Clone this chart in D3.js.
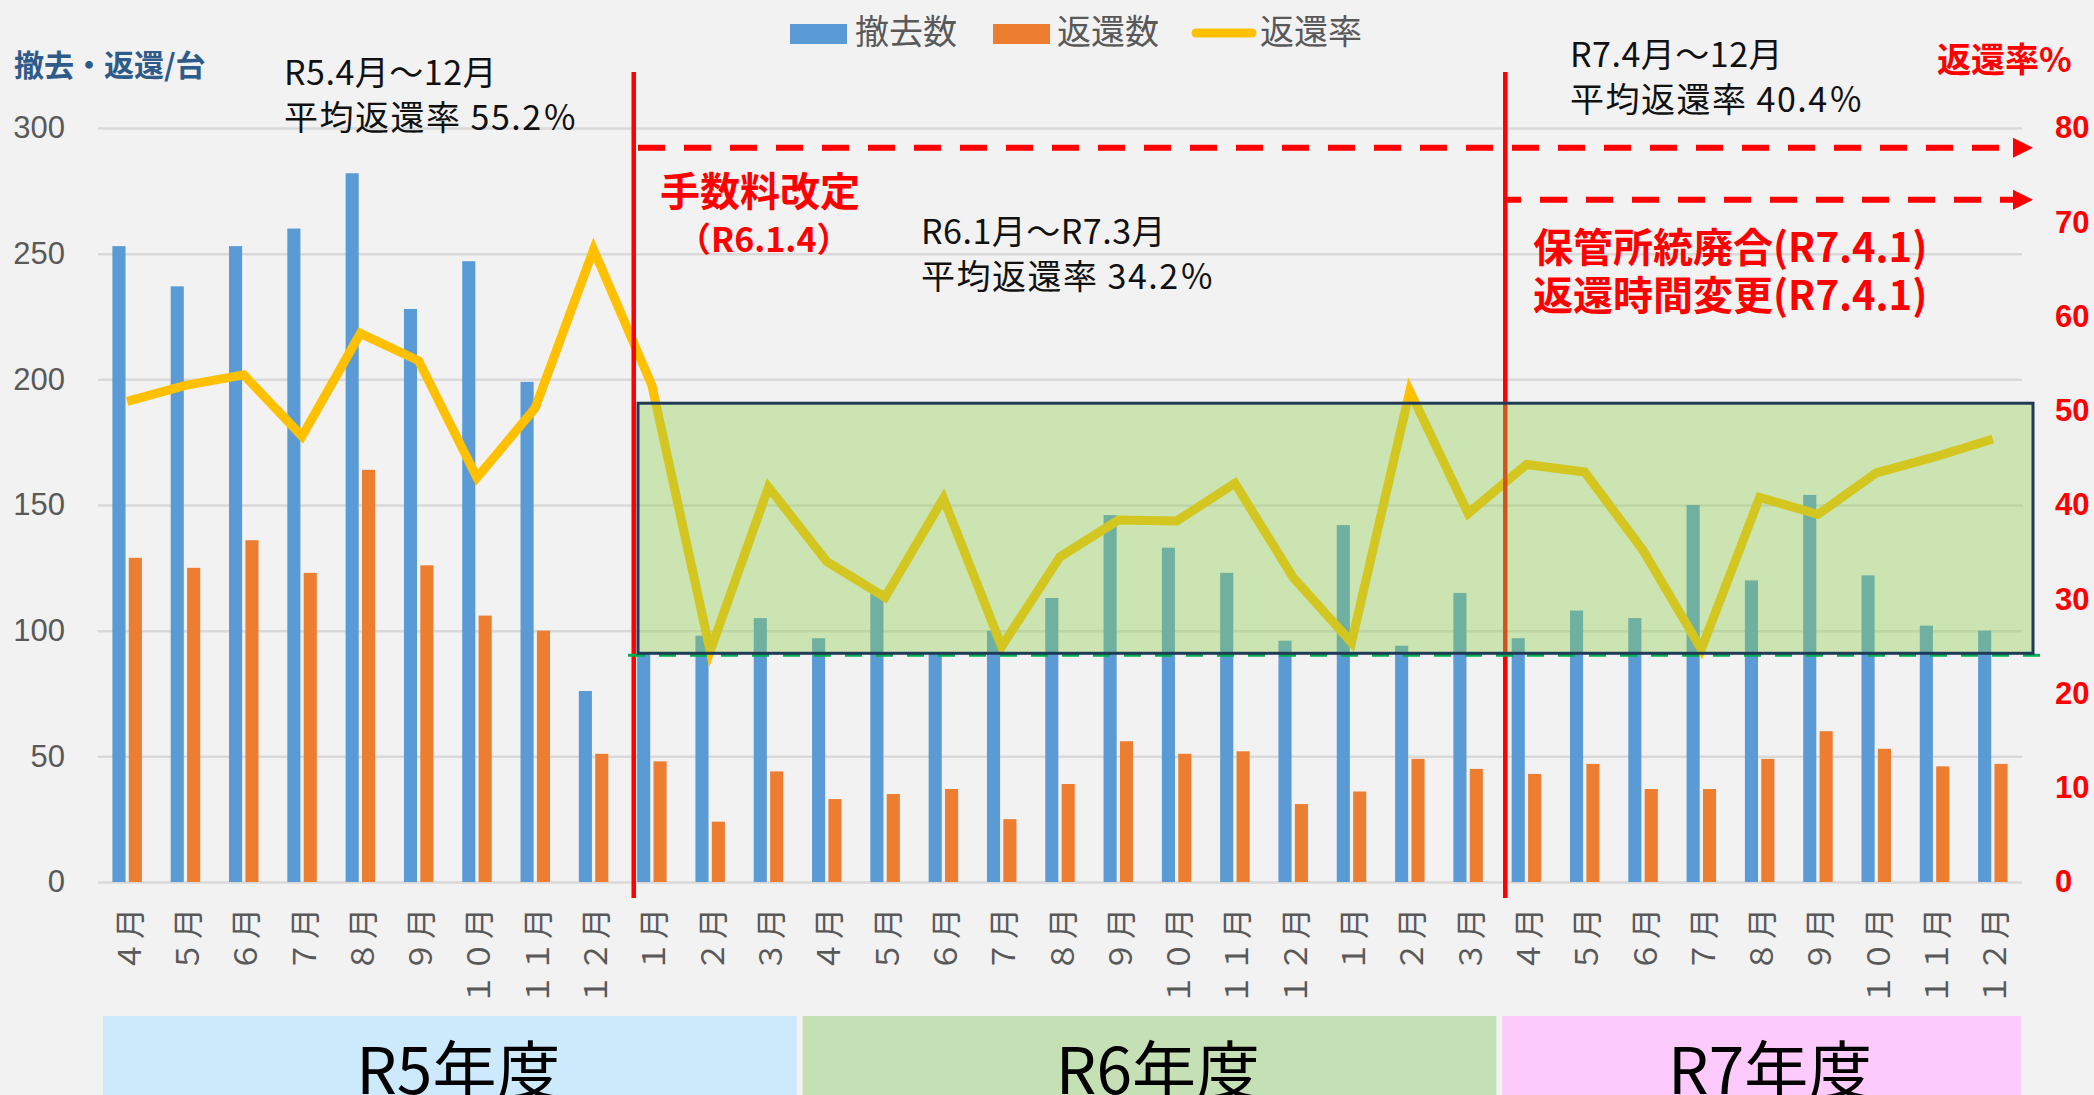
<!DOCTYPE html>
<html lang="ja">
<head>
<meta charset="utf-8">
<script src="https://cdn.jsdelivr.net/npm/d3@7"></script>
<style>
  html, body { margin: 0; padding: 0; background: #f2f2f2; }
  svg { display: block; font-family: "Noto Sans CJK JP", "Noto Sans", sans-serif; }
</style>
</head>
<body>
<div id="chart"></div>
<script>
/**
 * DATA
 * */
const monthLabels = [
  "４月", "５月", "６月", "７月", "８月", "９月", "１０月", "１１月", "１２月", "１月", "２月", "３月",
  "４月", "５月", "６月", "７月", "８月", "９月", "１０月", "１１月", "１２月", "１月", "２月", "３月",
  "４月", "５月", "６月", "７月", "８月", "９月", "１０月", "１１月", "１２月"
];
// 撤去数
const removed = [
  253, 237, 253, 260, 282, 228, 247, 199, 76, 91, 98, 105,
  97, 116, 91, 100, 113, 146, 133, 123, 96, 142, 94, 115,
  97, 108, 105, 150, 120, 154, 122, 102, 100
];
// 返還数
const returned = [
  129, 125, 136, 123, 164, 126, 106, 100, 51, 48, 24, 44,
  33, 35, 37, 25, 39, 56, 51, 52, 31, 36, 49, 45,
  43, 47, 37, 37, 49, 60, 53, 46, 47
];
// 返還率 (%)
const rate = [
  51.0, 52.7, 53.8, 47.3, 58.2, 55.3, 42.9, 50.3, 67.1, 52.7, 24.5, 41.9,
  34.0, 30.2, 40.7, 25.0, 34.5, 38.4, 38.3, 42.3, 32.3, 25.4, 52.1, 39.1,
  44.3, 43.5, 35.2, 24.7, 40.8, 39.0, 43.4, 45.1, 47.0
];
const fiscalYears = ["R5年度", "R6年度", "R7年度"];
const fiscalStart = [0, 12, 24];
const fiscalEnd = [12, 24, 33];
const fiscalColors = ["#cdeafd", "#c5e0b4", "#fdcbfb"];
const leftTicks = [0, 50, 100, 150, 200, 250, 300];
const rightTicks = [0, 10, 20, 30, 40, 50, 60, 70, 80];

/**
 * CONSTANTS
 * */
const width = 2094,
  height = 1095,
  margin = { top: 128, right: 72, bottom: 213, left: 98 },
  blue = "#5b9bd5",
  orange = "#ed7d31",
  yellow = "#ffc000",
  red = "#ff0000",
  gray = "#595959";

const n = monthLabels.length;

const svg = d3.select("#chart")
  .append("svg")
  .attr("width", width)
  .attr("height", height);

svg.append("rect").attr("width", width).attr("height", height).attr("fill", "#f2f2f2");

// SCALES
const xScale = d3.scaleBand()
  .domain(d3.range(n))
  .range([margin.left, width - margin.right]);

const xSub = d3.scaleBand()
  .domain(["removed", "returned"])
  .range([-14.75, 14.75])
  .paddingInner(0.2);

const yLeft = d3.scaleLinear()
  .domain([0, 300])
  .range([height - margin.bottom, margin.top]);

const yRight = d3.scaleLinear()
  .domain([0, 80])
  .range([height - margin.bottom, margin.top]);

const cx = i => xScale(i) + xScale.bandwidth() / 2;

// left axis + gridlines
const yAxis = d3.axisLeft(yLeft)
  .tickValues(leftTicks)
  .tickSize(-(width - margin.left - margin.right))
  .tickPadding(33);

svg.append("g")
  .attr("class", "y-axis")
  .attr("transform", `translate(${margin.left},0)`)
  .call(yAxis)
  .call(g => g.select(".domain").remove())
  .call(g => g.selectAll(".tick line").attr("stroke", "#d9d9d9").attr("stroke-width", 2.5))
  .call(g => g.selectAll(".tick text")
    .attr("fill", gray)
    .style("font-family", "'Liberation Sans', Arial, sans-serif")
    .style("font-size", "31px"));

// BARS
svg.append("g")
  .selectAll("rect")
  .data(removed)
  .join("rect")
  .attr("x", (d, i) => cx(i) + xSub("removed"))
  .attr("width", xSub.bandwidth())
  .attr("y", d => yLeft(d))
  .attr("height", d => yLeft(0) - yLeft(d))
  .attr("fill", blue);

svg.append("g")
  .selectAll("rect")
  .data(returned)
  .join("rect")
  .attr("x", (d, i) => cx(i) + xSub("returned"))
  .attr("width", xSub.bandwidth())
  .attr("y", d => yLeft(d))
  .attr("height", d => yLeft(0) - yLeft(d))
  .attr("fill", orange);

// RATE LINE
const lineFunc = d3.line()
  .x((d, i) => cx(i))
  .y(d => yRight(d));

svg.append("path")
  .datum(rate)
  .attr("d", lineFunc)
  .attr("fill", "none")
  .attr("stroke", yellow)
  .attr("stroke-width", 9)
  .attr("stroke-linejoin", "miter")
  .attr("stroke-miterlimit", 6);

// red vertical markers (R6.1 and R7.4)
const markerX = [xScale(9) + 11, xScale(24) + 8];
svg.append("g")
  .selectAll("line")
  .data(markerX)
  .join("line")
  .attr("x1", d => d).attr("x2", d => d)
  .attr("y1", 72).attr("y2", 898)
  .attr("stroke", red)
  .attr("stroke-width", 4.5);

// green dashed line under the box
svg.append("line")
  .attr("x1", 628).attr("x2", 2052)
  .attr("y1", yLeft(91) + 2).attr("y2", yLeft(91) + 2)
  .attr("stroke", "#00b050")
  .attr("stroke-width", 3)
  .attr("stroke-dasharray", "17,14");

// highlight box
svg.append("rect")
  .attr("x", 638)
  .attr("y", yLeft(190.5))
  .attr("width", 2033 - 638)
  .attr("height", yLeft(91) - yLeft(190.5))
  .attr("fill", "rgba(146,208,80,0.4)")
  .attr("stroke", "#1f3b57")
  .attr("stroke-width", 3);

// dashed arrows
const arrowTip = 2033;
const arrows = [
  { x0: 638, y: yRight(77.9), offset: 0 },
  { x0: 1505, y: yRight(72.4), offset: 11 }
];
const arrowG = svg.append("g");
arrows.forEach(a => {
  arrowG.append("line")
    .attr("x1", a.x0).attr("x2", arrowTip - 20)
    .attr("y1", a.y).attr("y2", a.y)
    .attr("stroke", red)
    .attr("stroke-width", 6)
    .attr("stroke-dasharray", "27,19")
    .attr("stroke-dashoffset", a.offset);
  arrowG.append("path")
    .attr("d", `M${arrowTip - 20},${a.y - 10}L${arrowTip},${a.y}L${arrowTip - 20},${a.y + 10}Z`)
    .attr("fill", red);
});

// right axis
const yAxisRight = d3.axisRight(yRight)
  .tickValues(rightTicks)
  .tickSize(0)
  .tickPadding(33);

svg.append("g")
  .attr("class", "y-axis-right")
  .attr("transform", `translate(${width - margin.right},0)`)
  .call(yAxisRight)
  .call(g => g.select(".domain").remove())
  .call(g => g.selectAll(".tick text")
    .attr("fill", red)
    .style("font-family", "'Liberation Sans', Arial, sans-serif")
    .style("font-weight", "bold")
    .style("font-size", "31px"));

// x labels (rotated)
svg.append("g")
  .selectAll("text")
  .data(monthLabels)
  .join("text")
  .attr("transform", (d, i) => `translate(${cx(i)},${906}) rotate(-90)`)
  .attr("text-anchor", "end")
  .attr("dominant-baseline", "central")
  .attr("fill", gray)
  .style("font-size", "31px")
  .style("letter-spacing", "2px")
  .text(d => d);

// fiscal year bands
const fy = svg.append("g");
fiscalYears.forEach((name, k) => {
  const x0 = xScale(fiscalStart[k]) + 5;
  const x1 = fiscalEnd[k] < n ? xScale(fiscalEnd[k]) : width - margin.right;
  fy.append("rect")
    .attr("x", x0).attr("y", 1016)
    .attr("width", x1 - x0 - 1).attr("height", height - 1016)
    .attr("fill", fiscalColors[k]);
  fy.append("text")
    .attr("x", (x0 + x1) / 2 + 8)
    .attr("y", 1094)
    .attr("text-anchor", "middle")
    .attr("fill", "#000")
    .style("font-size", "64px")
    .text(name);
});

// legend
const legend = svg.append("g").attr("fill", gray).style("font-size", "34px");
legend.append("rect").attr("x", 790).attr("y", 24).attr("width", 57).attr("height", 20).attr("fill", blue);
legend.append("text").attr("x", 855).attr("y", 44).text("撤去数");
legend.append("rect").attr("x", 993).attr("y", 24).attr("width", 57).attr("height", 20).attr("fill", orange);
legend.append("text").attr("x", 1057).attr("y", 44).text("返還数");
legend.append("line").attr("x1", 1196).attr("x2", 1252).attr("y1", 33).attr("y2", 33)
  .attr("stroke", yellow).attr("stroke-width", 9).attr("stroke-linecap", "round");
legend.append("text").attr("x", 1260).attr("y", 44).text("返還率");

// axis titles
svg.append("text")
  .attr("x", 14).attr("y", 76)
  .attr("fill", "#2e5b8a")
  .style("font-size", "30px").style("font-weight", "bold")
  .text("撤去・返還/台");

svg.append("text")
  .attr("x", 1937).attr("y", 72)
  .attr("fill", red)
  .style("font-size", "34px").style("font-weight", "bold")
  .text("返還率%");

// period notes
const notes = [
  { x: 284, y: 85, lines: ["R5.4月～12月", "平均返還率 55.2％"] },
  { x: 921, y: 244, lines: ["R6.1月～R7.3月", "平均返還率 34.2％"] },
  { x: 1570, y: 67, lines: ["R7.4月～12月", "平均返還率 40.4％"] }
];
notes.forEach(nt => {
  nt.lines.forEach((t, j) => {
    svg.append("text")
      .attr("x", nt.x).attr("y", nt.y + j * 45)
      .attr("fill", "#111")
      .style("font-size", "34px")
      .style("letter-spacing", j === 1 ? "1.5px" : "0.5px")
      .text(t);
  });
});

// red event labels
const redText = (x, y, size, t) => svg.append("text")
  .attr("x", x).attr("y", y)
  .attr("fill", red)
  .style("font-size", size + "px").style("font-weight", "bold")
  .text(t);

redText(660, 206, 40, "手数料改定");
redText(677, 252, 34, "（R6.1.4）");
redText(1533, 262, 40, "保管所統廃合(R7.4.1)");
redText(1533, 310, 40, "返還時間変更(R7.4.1)");
</script>
</body>
</html>
